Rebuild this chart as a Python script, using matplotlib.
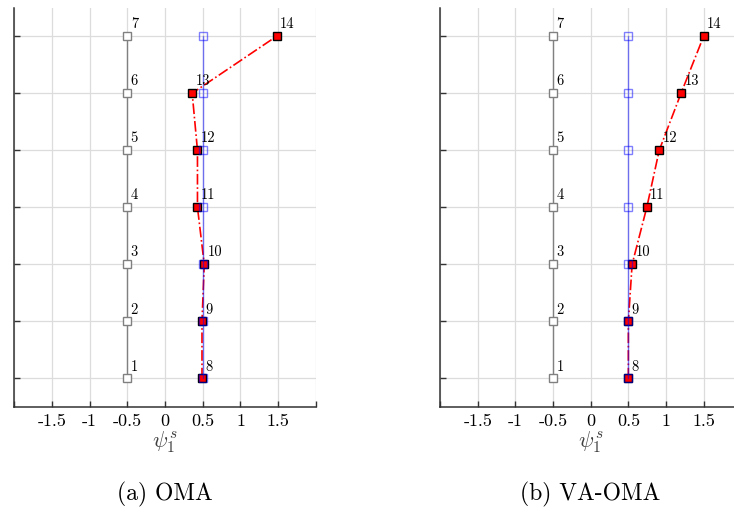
import matplotlib
matplotlib.use("Agg")
import matplotlib.pyplot as plt

plt.rcParams["font.family"] = "cmr10"
plt.rcParams["mathtext.fontset"] = "cm"
plt.rcParams["axes.unicode_minus"] = False
plt.rcParams["axes.formatter.use_mathtext"] = True

# reference (undeformed) shape: nodes 1-7 at x=-0.5, nodes 8-14 at x=0.5
floors = [1, 2, 3, 4, 5, 6, 7]
ref_left = [-0.5] * 7
ref_right = [0.5] * 7
left_ids = [1, 2, 3, 4, 5, 6, 7]
right_ids = [8, 9, 10, 11, 12, 13, 14]

# identified mode shape values for nodes 8-14
oma_vals = [0.49, 0.49, 0.52, 0.43, 0.43, 0.36, 1.48]
vaoma_vals = [0.50, 0.50, 0.55, 0.745, 0.91, 1.20, 1.50]

panels = [("(a) OMA", oma_vals), ("(b) VA-OMA", vaoma_vals)]
xtick_labels = ["-1.5", "-1", "-0.5", "0", "0.5", "1", "1.5"]

fig = plt.figure(figsize=(7.34, 5.12), dpi=100)
positions = [[0.0191, 0.2051, 0.4114, 0.780], [0.5995, 0.2051, 0.4105, 0.780]]

for (caption, vals), pos in zip(panels, positions):
    ax = fig.add_axes(pos)
    ax.set_xlim(-2, 2)
    ax.set_ylim(0.5, 7.5)
    ax.set_xticks([-2, -1.5, -1, -0.5, 0, 0.5, 1, 1.5, 2])
    ax.set_xticklabels([""] + xtick_labels + [""])
    ax.set_yticks(floors)
    ax.set_yticklabels([])
    ax.grid(True, color="#dcdcdc", linewidth=0.9)
    ax.set_axisbelow(True)
    for side in ["top", "right"]:
        ax.spines[side].set_visible(False)
    for side in ["left", "bottom"]:
        ax.spines[side].set_linewidth(1.1)
        ax.spines[side].set_color("#333333")
    ax.tick_params(direction="in", length=4, width=1.0, labelsize=13, pad=5,
                   color="#333333", left=True, bottom=True)

    # gray reference column
    ax.plot(ref_left, floors, color="#808080", linewidth=1.0, marker="s",
            markersize=5.5, markerfacecolor="white", markeredgecolor="#808080",
            markeredgewidth=1.0, zorder=3)

    # red identified column
    ax.plot(vals, floors, color="red", linestyle="-.", linewidth=1.2,
            marker="s", markersize=6.2, markerfacecolor="red",
            markeredgecolor="black", markeredgewidth=1.0, zorder=4)

    # blue reference column on top
    ax.plot(ref_right, floors, color="blue", alpha=0.5, linewidth=1.0,
            marker="s", markersize=5.5, markerfacecolor="none",
            markeredgecolor="blue", markeredgewidth=1.0, zorder=5)

    for x, y, n in zip(ref_left, floors, left_ids):
        ax.annotate(str(n), (x, y), xytext=(2.5, 3.5), textcoords="offset points",
                    fontsize=10.5, ha="left", va="bottom", zorder=6)
    for x, y, n in zip(vals, floors, right_ids):
        ax.annotate(str(n), (x, y), xytext=(2.5, 3.5), textcoords="offset points",
                    fontsize=10.5, ha="left", va="bottom", zorder=6)

    ax.set_xlabel(r"$\psi_1^s$", fontsize=16, color="#404040", labelpad=0)
    ax.text(0.5, -0.218, caption, transform=ax.transAxes, ha="center",
            va="center", fontsize=17)

fig.savefig("out.png", dpi=100)
